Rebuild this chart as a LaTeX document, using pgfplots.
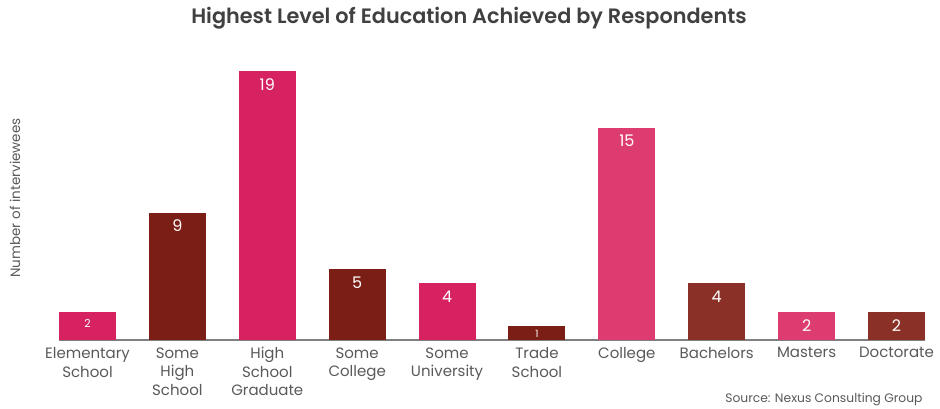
\documentclass[border=0pt]{standalone}
\usepackage{pgfplots}
\pgfplotsset{compat=1.18}
\usepackage{fontspec}
\setmainfont{Poppins}[BoldFont={Poppins SemiBold}]
\definecolor{pinkA}{HTML}{D62260}
\definecolor{redA}{HTML}{7A1E16}
\definecolor{pinkB}{HTML}{DC3C70}
\definecolor{redB}{HTML}{8A3027}
\definecolor{txt}{HTML}{595959}
\definecolor{ttl}{HTML}{404040}
\begin{document}
\begin{tikzpicture}[x=1pt,y=1pt]
\useasboundingbox (0,0) rectangle (940,409);
\node[font=\bfseries\fontsize{20.8}{24}\selectfont, text=ttl] at (469,391) {Highest Level of Education Achieved by Respondents};
\node[rotate=90, font=\fontsize{13.5}{16}\selectfont, text=txt] at (15,211) {Number of interviewees};
\node[anchor=east, font=\fontsize{12.3}{14}\selectfont, text=txt] at (926,10) {Source: Nexus Consulting Group};
\begin{axis}[
    at={(59pt,69pt)}, anchor=south west,
    scale only axis, width=866pt, height=283pt,
    xmin=-0.317, xmax=9.317, ymin=0, ymax=20,
    axis x line*=bottom, axis y line=none,
    x axis line style={draw=gray, line width=1.5pt},
    ytick={5,10,15,20}, yticklabels={},
    ymajorgrids, grid style={densely dotted, gray!60, line width=0.6pt},
    xtick={0,...,9},
    xticklabels={Elementary\\School, Some\\High\\School, High\\School\\Graduate, Some\\College, Some\\University, Trade\\School, College, Bachelors, Masters, Doctorate},
    xticklabel style={align=center, font=\fontsize{15}{18.5}\selectfont, text=txt, yshift=-4pt},
    major tick length=0pt,
    /pgf/number format/assume math mode=true,
    ybar, bar width=57pt,
    nodes near coords,
    every node near coord/.append style={anchor=north, text=white, font=\fontsize{16}{18}\selectfont, yshift=-4pt},
  ]
  \addplot[fill=pinkA, draw=none, bar shift=0pt, every node near coord/.append style={font=\fontsize{11}{13}\selectfont}] coordinates {(0,2)};
  \addplot[fill=redA, draw=none, bar shift=0pt] coordinates {(1,9)};
  \addplot[fill=pinkA, draw=none, bar shift=0pt] coordinates {(2,19)};
  \addplot[fill=redA, draw=none, bar shift=0pt] coordinates {(3,5)};
  \addplot[fill=pinkA, draw=none, bar shift=0pt] coordinates {(4,4)};
  \addplot[fill=redA, draw=none, bar shift=0pt, every node near coord/.append style={font=\fontsize{10}{12}\selectfont, yshift=3pt}] coordinates {(5,1)};
  \addplot[fill=pinkB, draw=none, bar shift=0pt] coordinates {(6,15)};
  \addplot[fill=redB, draw=none, bar shift=0pt] coordinates {(7,4)};
  \addplot[fill=pinkB, draw=none, bar shift=0pt] coordinates {(8,2)};
  \addplot[fill=redB, draw=none, bar shift=0pt] coordinates {(9,2)};
\end{axis}
\end{tikzpicture}
\end{document}
